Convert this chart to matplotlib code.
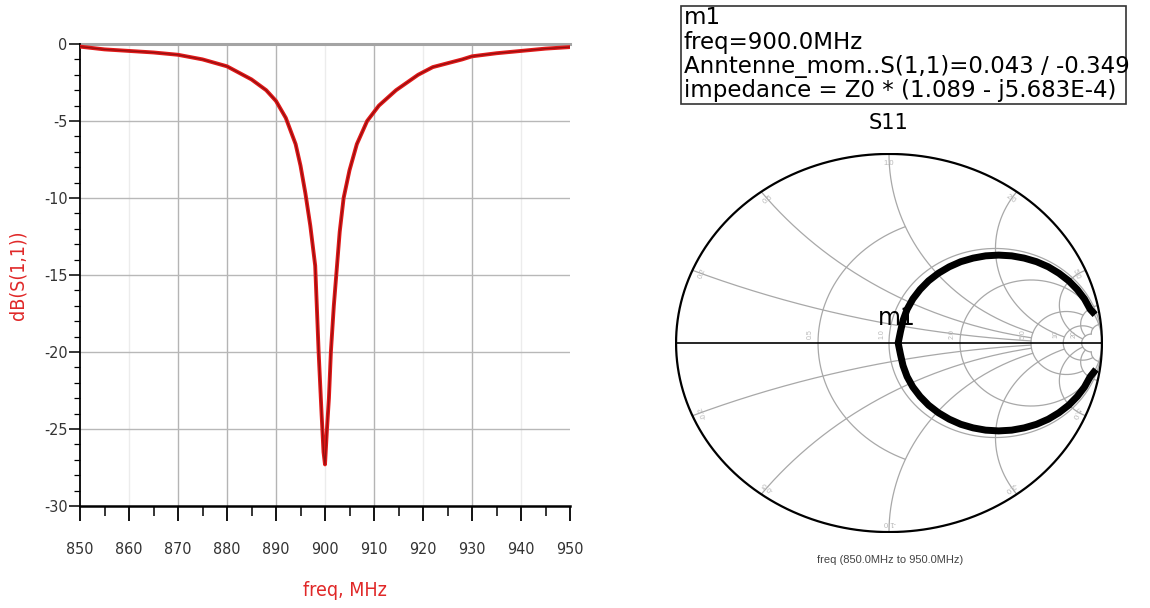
import numpy as np
import matplotlib
matplotlib.use("Agg")
import matplotlib.pyplot as plt
from matplotlib import font_manager
from matplotlib.patches import Rectangle

# ---------------- data ----------------
freq_mhz = [850, 855, 860, 865, 870, 875, 880, 885, 888, 890, 892, 894, 895,
            896, 897, 898, 898.7, 899.3, 899.7, 900.0, 900.4, 900.8, 901.2,
            901.8, 902.3, 903.0, 903.8, 905.0, 906.5, 908.6, 911.0, 914.5,
            919.0, 922.0, 928.0, 930.0, 935.0, 940.0, 945.0, 950.0]
s11_db = [-0.17, -0.35, -0.45, -0.55, -0.7, -1.0, -1.45, -2.3, -3.0, -3.7,
          -4.8, -6.5, -7.9, -9.7, -11.8, -14.4, -20.0, -24.0, -26.5, -27.3,
          -25.0, -23.0, -20.0, -17.0, -15.0, -12.2, -10.0, -8.2, -6.5, -5.0,
          -4.0, -3.0, -2.0, -1.5, -1.0, -0.8, -0.6, -0.45, -0.3, -0.2]

x_ticks = [850, 860, 870, 880, 890, 900, 910, 920, 930, 940, 950]
y_ticks = [0, -5, -10, -15, -20, -25, -30]

# Smith-chart trace (reflection coefficient), 850 -> 950 MHz
gamma_re = [0.972, 0.945, 0.918, 0.884, 0.844, 0.798, 0.748, 0.693, 0.635,
            0.576, 0.515, 0.454, 0.395, 0.337, 0.283, 0.232, 0.186, 0.146,
            0.112, 0.085, 0.066, 0.054, 0.043, 0.054, 0.066, 0.085, 0.112,
            0.146, 0.186, 0.232, 0.283, 0.337, 0.395, 0.454, 0.515, 0.576,
            0.635, 0.693, 0.748, 0.798, 0.844, 0.884, 0.918, 0.945, 0.968]
gamma_im = [-0.140, -0.178, -0.233, -0.283, -0.329, -0.369, -0.403, -0.430,
            -0.449, -0.461, -0.465, -0.461, -0.449, -0.430, -0.403, -0.369,
            -0.329, -0.283, -0.233, -0.178, -0.120, -0.061, 0.000, 0.061,
            0.120, 0.178, 0.233, 0.283, 0.329, 0.369, 0.403, 0.430, 0.449,
            0.461, 0.465, 0.461, 0.449, 0.430, 0.403, 0.369, 0.329, 0.283,
            0.233, 0.178, 0.150]
marker_index = 22

marker_lines = ["m1",
                "freq=900.0MHz",
                "Anntenne_mom..S(1,1)=0.043 / -0.349",
                "impedance = Z0 * (1.089 - j5.683E-4)"]

# ---------------- fonts ----------------
ttf = font_manager.fontManager.ttflist
names = {f.name for f in ttf}
has_cond = any(f.name == "DejaVu Sans" and f.stretch == "condensed" for f in ttf)
narrow_kw = dict(family=["DejaVu Sans"], fontstretch="condensed") if has_cond \
    else dict(family=["Liberation Sans", "DejaVu Sans"])
if "Liberation Sans Narrow" in names:
    narrow_kw = dict(family=["Liberation Sans Narrow", "DejaVu Sans"])
wide_kw = dict(family=["DejaVu Sans"], fontstretch="normal")
plt.rcParams["font.family"] = ["Liberation Sans", "DejaVu Sans"]

W, H = 1150, 608
fig = plt.figure(figsize=(W / 100, H / 100), dpi=100)
fig.patch.set_facecolor("white")


def fx(px):
    return px / W


def fy(py):
    return 1 - py / H


# ---------------- left: dB(S(1,1)) ----------------
ax = fig.add_axes([fx(80), fy(506), fx(570) - fx(80), fy(44) - fy(506)])
ax.set_xlim(850, 950)
ax.set_ylim(-30, 0)
strong = [870, 880, 890, 910, 930]
for xv in x_ticks[1:-1]:
    ax.axvline(xv, color="#b4b4b4" if xv in strong else "#ececec", lw=1.0, zorder=1)
for yv in y_ticks[1:-1]:
    ax.axhline(yv, color="#b8b8b8", lw=1.0, zorder=1)
ax.axhline(0, color="#a4a4a4", lw=2.2, zorder=1, clip_on=False)

ax.plot(freq_mhz, s11_db, color="#e01818", lw=2.8, zorder=3,
        solid_capstyle="round", solid_joinstyle="round")
ax.plot(freq_mhz, s11_db, color="#7a0c0c", lw=0.9, zorder=4, alpha=0.75,
        solid_joinstyle="round")

for s in ["top", "right"]:
    ax.spines[s].set_visible(False)
ax.spines["left"].set_linewidth(1.3)
ax.spines["bottom"].set_linewidth(1.8)

ax.set_xticks(x_ticks)
ax.set_xticks(np.arange(855, 950, 10), minor=True)
ax.set_yticks(y_ticks)
ax.set_yticks(np.arange(-29, 0, 1), minor=True)
ax.tick_params(axis="x", which="major", length=11, width=1.3, direction="out",
               pad=15, labelsize=11.5, labelcolor="#333333")
ax.tick_params(axis="x", which="minor", length=7, width=1.1, direction="out")
ax.tick_params(axis="y", which="major", length=8, width=1.1, direction="out",
               pad=1, labelsize=11.5, labelcolor="#333333")
ax.tick_params(axis="y", which="minor", length=4, width=0.9, direction="out")
ax.set_xticklabels([str(v) for v in x_ticks], **narrow_kw)
ax.set_yticklabels([str(v) for v in y_ticks], **narrow_kw)

fig.text(fx(345), fy(590), "freq, MHz", color="#e02828", fontsize=14,
         ha="center", va="center", **narrow_kw)
fig.text(fx(18), fy(275), "dB(S(1,1))", color="#e02828", fontsize=14,
         ha="center", va="center", rotation=90, **narrow_kw)

# ---------------- right: Smith chart ----------------
sx = fig.add_axes([fx(675), fy(533), fx(1103) - fx(675), fy(153) - fy(533)])
sx.set_xlim(-1.005, 1.005)
sx.set_ylim(-1.005, 1.005)
sx.axis("off")
grid_c = "#a8a8a8"


def gam(z):
    return (z - 1) / (z + 1)


t = np.linspace(-np.pi / 2 + 1e-4, np.pi / 2 - 1e-4, 1500)


def r_circle(r, xmax):
    xs = np.tan(t)
    xs = xs[np.abs(xs) <= xmax]
    g = gam(r + 1j * xs)
    sx.plot(g.real, g.imag, color=grid_c, lw=0.9, zorder=1)


def x_arc(xv, rmax):
    rs = np.tan(np.linspace(0, np.pi / 2 - 1e-4, 1500))
    rs = rs[rs <= rmax]
    for sgn in (1, -1):
        g = gam(rs + 1j * sgn * xv)
        sx.plot(g.real, g.imag, color=grid_c, lw=0.9, zorder=1)


r_circle(0.5, 1.0)
r_circle(1.0, 1e5)
r_circle(2.0, 1e5)
r_circle(5.0, 10)
r_circle(10.0, 20)
r_circle(20.0, 20)
x_arc(0.2, 5)
x_arc(0.5, 5)
x_arc(1.0, 5)
x_arc(2.0, 10)
x_arc(5.0, 20)
x_arc(10.0, 20)
x_arc(20.0, 20)

# outer circle and real axis
ang = np.linspace(0, 2 * np.pi, 800)
sx.plot(np.cos(ang), np.sin(ang), color="black", lw=1.6, zorder=2)
sx.plot([-1, 1], [0, 0], color="black", lw=1.2, zorder=2)

# faint grid labels
lab_c = "#b8b8b8"
for xv, txt in [(0.2, "0.2"), (0.5, "0.5"), (1.0, "1.0"), (2.0, "2.0"), (5.0, "5.0")]:
    for sgn in (1, -1):
        g = gam(1j * sgn * xv)
        a = np.degrees(np.arctan2(g.imag, g.real))
        sx.text(g.real * 0.95, g.imag * 0.95, txt if sgn > 0 else "-" + txt,
                fontsize=5.5, color=lab_c, ha="center", va="center",
                rotation=a - 90, zorder=1)
for rv, txt in [(0.5, "0.5"), (1.0, "1.0"), (2.0, "2.0"), (5.0, "5.0"), (10.0, "10"), (20.0, "20")]:
    g = gam(rv)
    sx.text(g.real - 0.035, 0.045, txt, fontsize=5, color=lab_c,
            ha="center", va="center", rotation=90, zorder=1)

# data trace
sx.plot(gamma_re, gamma_im, color="black", lw=5.0, zorder=3,
        solid_capstyle="butt", solid_joinstyle="round")
sx.text(gamma_re[marker_index] - 0.095, gamma_im[marker_index] + 0.07, "m1",
        fontsize=17, color="black", ha="left", va="bottom", zorder=4, **wide_kw)

fig.text(fx(890), fy(560), "freq (850.0MHz to 950.0MHz)", fontsize=8,
         color="#444444", ha="center", va="center")

# marker box
fig.patches.append(Rectangle((fx(681), fy(104)), fx(1126) - fx(681), fy(6) - fy(104),
                             transform=fig.transFigure, fill=False,
                             edgecolor="#333333", lw=1.2))
for i, line in enumerate(marker_lines):
    fig.text(fx(684), fy(18 + 24 * i), line, fontsize=16.5, color="black",
             ha="left", va="center", **wide_kw)
fig.text(fx(889), fy(123), "S11", fontsize=15, color="black",
         ha="center", va="center", **wide_kw)

fig.savefig("out.png", dpi=100, facecolor="white")
